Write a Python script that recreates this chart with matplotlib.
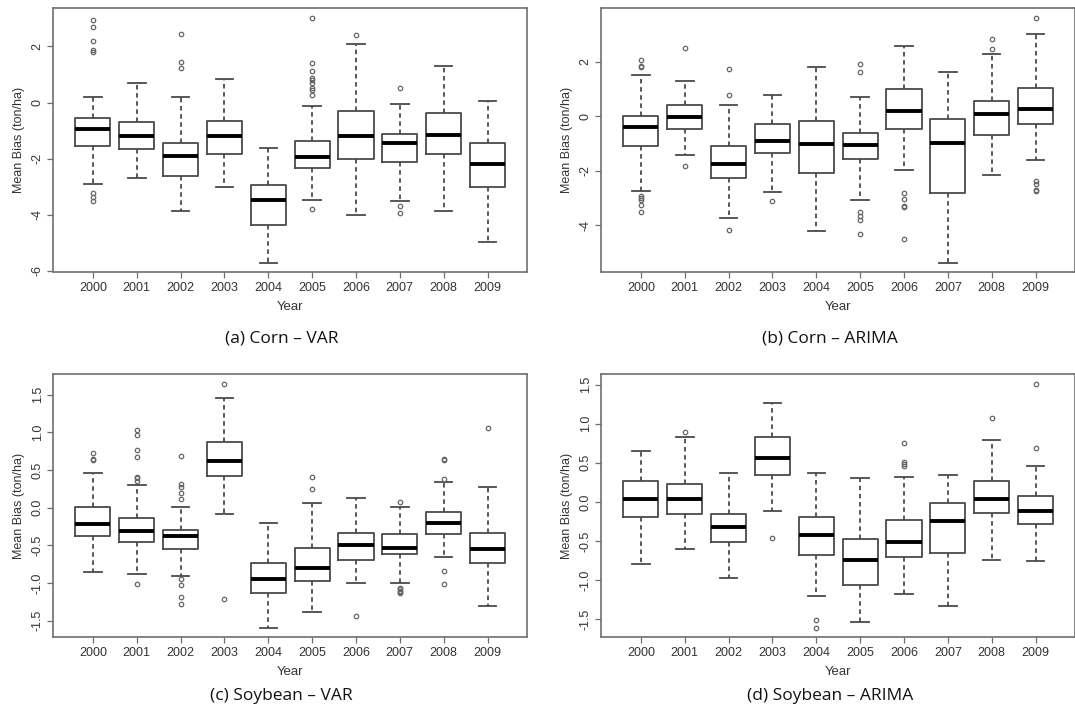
import matplotlib
matplotlib.use("Agg")
import matplotlib.pyplot as plt
import numpy as np

plt.rcParams["font.family"] = ["Liberation Sans", "DejaVu Sans"]
plt.rcParams["axes.unicode_minus"] = False

years = ["2000", "2001", "2002", "2003", "2004", "2005", "2006", "2007", "2008", "2009"]

# (a) Corn - VAR
corn_var_med = [-0.95, -1.21, -1.90, -1.21, -3.48, -1.93, -1.21, -1.45, -1.14, -2.19]
corn_var_q1 = [-1.55, -1.67, -2.62, -1.83, -4.35, -2.35, -2.02, -2.12, -1.85, -3.00]
corn_var_q3 = [-0.54, -0.69, -1.45, -0.65, -2.94, -1.38, -0.30, -1.12, -0.36, -1.43]
corn_var_lo = [-2.92, -2.68, -3.86, -3.00, -5.70, -3.48, -4.01, -3.50, -3.86, -4.96]
corn_var_hi = [0.18, 0.71, 0.19, 0.83, -1.63, -0.11, 2.10, -0.06, 1.31, 0.05]
corn_var_out = [
    [2.93, 2.68, 2.19, 1.88, 1.80, -3.24, -3.38, -3.51],
    [],
    [2.44, 1.43, 1.23],
    [],
    [],
    [3.01, 1.40, 1.13, 0.87, 0.79, 0.69, 0.51, 0.43, 0.27, -3.81],
    [2.42],
    [0.52, -3.69, -3.93],
    [],
    [],
]

# (b) Corn - ARIMA
corn_arima_med = [-0.39, -0.04, -1.75, -0.91, -1.02, -1.04, 0.21, -0.97, 0.07, 0.28]
corn_arima_q1 = [-1.09, -0.47, -2.28, -1.33, -2.07, -1.58, -0.45, -2.81, -0.67, -0.27]
corn_arima_q3 = [0.01, 0.40, -1.09, -0.28, -0.17, -0.60, 0.99, -0.11, 0.58, 1.04]
corn_arima_lo = [-2.74, -1.42, -3.72, -2.79, -4.21, -3.06, -1.98, -5.37, -2.17, -1.60]
corn_arima_hi = [1.52, 1.29, 0.40, 0.79, 1.83, 0.72, 2.59, 1.64, 2.29, 3.04]
corn_arima_out = [
    [2.07, 1.86, 1.83, -2.93, -3.01, -3.06, -3.25, -3.52],
    [2.50, -1.83],
    [1.73, 0.79, -4.16],
    [-3.10],
    [],
    [1.93, 1.63, -3.52, -3.67, -3.82, -4.32],
    [-2.83, -3.03, -3.30, -3.33, -4.50],
    [],
    [2.83, 2.48],
    [3.61, -2.38, -2.48, -2.71, -2.76],
]

# (c) Soybean - VAR
soy_var_med = [-0.22, -0.31, -0.38, 0.62, -0.95, -0.80, -0.50, -0.53, -0.21, -0.55]
soy_var_q1 = [-0.38, -0.46, -0.55, 0.42, -1.13, -0.97, -0.69, -0.61, -0.35, -0.73]
soy_var_q3 = [0.01, -0.14, -0.29, 0.87, -0.73, -0.53, -0.33, -0.35, -0.06, -0.33]
soy_var_lo = [-0.85, -0.88, -0.90, -0.09, -1.59, -1.39, -1.00, -1.00, -0.65, -1.31]
soy_var_hi = [0.46, 0.30, 0.01, 1.45, -0.20, 0.06, 0.13, 0.01, 0.34, 0.27]
soy_var_out = [
    [0.72, 0.65, 0.63],
    [1.03, 0.96, 0.77, 0.67, 0.41, 0.39, 0.36, -1.01],
    [0.69, 0.31, 0.27, 0.19, 0.12, -0.94, -1.03, -1.18, -1.28],
    [1.64, -1.21],
    [],
    [0.41, 0.25],
    [-1.44],
    [0.07, -1.06, -1.08, -1.10, -1.12, -1.13],
    [0.65, 0.63, 0.38, -0.84, -1.01],
    [1.05],
]

# (d) Soybean - ARIMA
soy_arima_med = [0.04, 0.04, -0.32, 0.56, -0.42, -0.74, -0.52, -0.24, 0.04, -0.12]
soy_arima_q1 = [-0.20, -0.16, -0.52, 0.35, -0.68, -1.07, -0.70, -0.66, -0.14, -0.28]
soy_arima_q3 = [0.27, 0.23, -0.15, 0.83, -0.20, -0.47, -0.23, -0.01, 0.27, 0.08]
soy_arima_lo = [-0.79, -0.61, -0.97, -0.12, -1.21, -1.54, -1.18, -1.33, -0.75, -0.76]
soy_arima_hi = [0.65, 0.83, 0.37, 1.27, 0.37, 0.30, 0.32, 0.35, 0.79, 0.46]
soy_arima_out = [
    [],
    [0.89],
    [],
    [-0.46],
    [-1.51, -1.61],
    [],
    [0.75, 0.51, 0.48, 0.46],
    [],
    [1.08],
    [1.51, 0.69],
]

panels = [
    ("(a) Corn \u2013 VAR", corn_var_med, corn_var_q1, corn_var_q3, corn_var_lo, corn_var_hi, corn_var_out,
     [-6, -4, -2, 0, 2], "%d"),
    ("(b) Corn \u2013 ARIMA", corn_arima_med, corn_arima_q1, corn_arima_q3, corn_arima_lo, corn_arima_hi, corn_arima_out,
     [-4, -2, 0, 2], "%d"),
    ("(c) Soybean \u2013 VAR", soy_var_med, soy_var_q1, soy_var_q3, soy_var_lo, soy_var_hi, soy_var_out,
     [-1.5, -1.0, -0.5, 0.0, 0.5, 1.0, 1.5], "%.1f"),
    ("(d) Soybean \u2013 ARIMA", soy_arima_med, soy_arima_q1, soy_arima_q3, soy_arima_lo, soy_arima_hi, soy_arima_out,
     [-1.5, -1.0, -0.5, 0.0, 0.5, 1.0, 1.5], "%.1f"),
]

rects = [
    [0.0497, 0.6181, 0.4405, 0.3703],
    [0.5595, 0.6181, 0.4405, 0.3703],
    [0.0497, 0.1062, 0.4405, 0.3689],
    [0.5595, 0.1062, 0.4405, 0.3689],
]
caption_xy = [(0.262, 0.525), (0.772, 0.525), (0.262, 0.024), (0.772, 0.024)]

line_col = "#4a4a4a"
frame_col = "#6e6e6e"

fig = plt.figure(figsize=(10.75, 7.13), dpi=100)

for (title, med, q1, q3, lo, hi, out, yt, fmt), rect, cxy in zip(panels, rects, caption_xy):
    ax = fig.add_axes(rect)
    stats = []
    for i in range(len(years)):
        stats.append(dict(med=med[i], q1=q1[i], q3=q3[i], whislo=lo[i], whishi=hi[i],
                          fliers=out[i], label=years[i]))
    ax.bxp(stats, positions=np.arange(1, 11), widths=0.8, capwidths=0.4,
           boxprops=dict(color=line_col, linewidth=1.3),
           whiskerprops=dict(color=line_col, linewidth=1.3, linestyle=(0, (2.5, 2))),
           capprops=dict(color=line_col, linewidth=1.3),
           medianprops=dict(color="black", linewidth=2.8, solid_capstyle="butt"),
           flierprops=dict(marker="o", markersize=3.2, markerfacecolor="none",
                           markeredgecolor="#666666", markeredgewidth=0.9))

    # R style limits: 4% padding
    vals = lo + hi + [v for o in out for v in o]
    vmin, vmax = min(vals), max(vals)
    pad = (vmax - vmin) * 0.04
    ax.set_ylim(vmin - pad, vmax + pad)
    ax.set_xlim(0.1, 10.9)

    ax.set_xticks(np.arange(1, 11))
    ax.set_xticklabels(years, fontsize=9, color="#333333")
    ax.set_yticks(yt)
    ax.set_yticklabels([fmt % v for v in yt], fontsize=9, color="#333333",
                       rotation=90, va="center")
    ax.tick_params(direction="out", length=4, width=0.9, color=frame_col, pad=3)
    for s in ax.spines.values():
        s.set_color(frame_col)
        s.set_linewidth(1.2)
    ax.set_xlabel("Year", fontsize=9.5, color="#333333", labelpad=5)
    ax.set_ylabel("Mean Bias (ton/ha)", fontsize=9, color="#333333", labelpad=5)

    fig.text(cxy[0], cxy[1], title, ha="center", va="center", fontsize=12.5,
             family=["Open Sans", "DejaVu Sans"], color="#111111")

fig.savefig("out.png", dpi=100)
